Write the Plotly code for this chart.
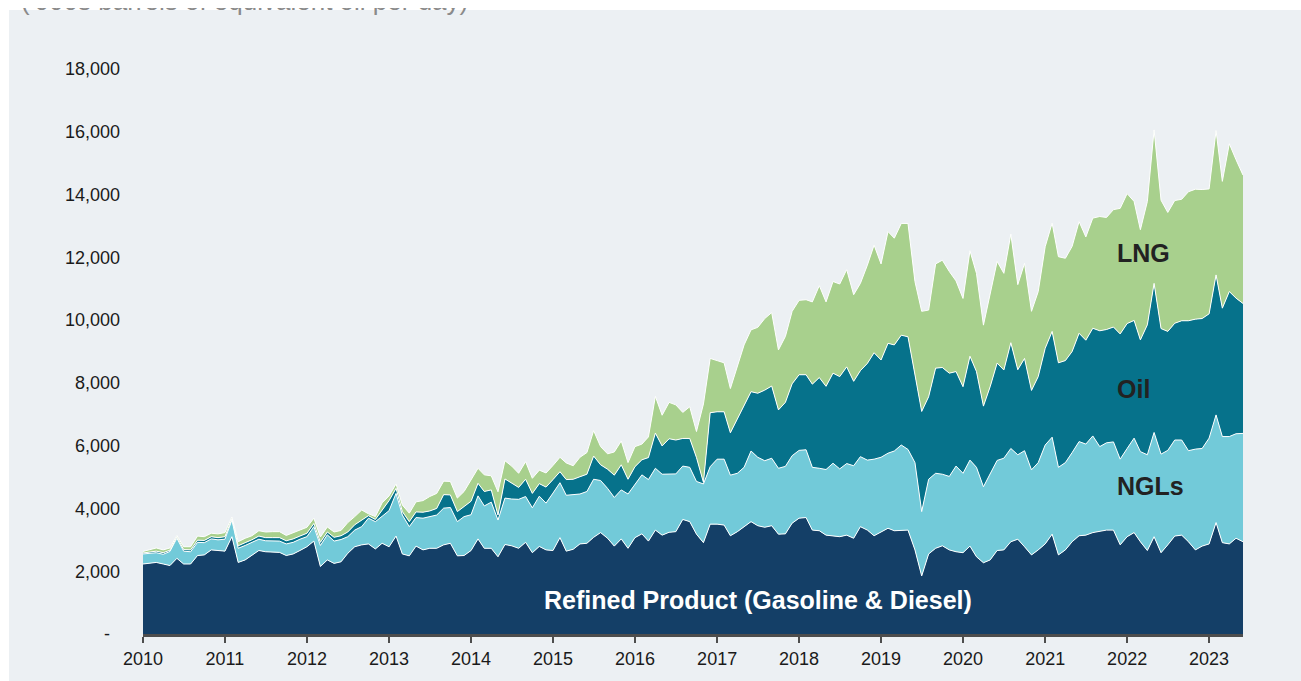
import plotly.graph_objects as go
import pandas as pd

# monthly, Jan 2010 - Jun 2023 ('000s barrels of equivalent oil per day)
months = pd.date_range("2010-01-01", periods=162, freq="MS")
year_ticks = [f"{y}-01-01" for y in range(2010, 2024)]
year_labels = [str(y) for y in range(2010, 2024)]
y_ticks = list(range(0, 18001, 2000))
y_labels = ["-\u00a0\u00a0"] + [f"{v:,}" for v in y_ticks[1:]]

refined = [
    2230, 2250, 2280, 2230, 2180, 2410, 2230, 2230, 2500, 2520, 2680, 2660,
    2640, 3100, 2280, 2360, 2520, 2660, 2620, 2620, 2600, 2500, 2550, 2660,
    2780, 2960, 2150, 2360, 2250, 2300, 2570, 2780, 2840, 2870, 2710, 2890,
    2780, 3120, 2550, 2490, 2800, 2680, 2730, 2730, 2840, 2890, 2490, 2500,
    2660, 3030, 2730, 2730, 2460, 2850, 2810, 2730, 2920, 2590, 2790, 2680,
    2660, 3070, 2640, 2700, 2870, 2890, 3080, 3230, 3050, 2800, 3030, 2730,
    3070, 3190, 2960, 3310, 3150, 3240, 3260, 3650, 3580, 3180, 2910, 3500,
    3500, 3470, 3130, 3260, 3420, 3580, 3450, 3400, 3450, 3180, 3190, 3530,
    3690, 3710, 3310, 3290, 3150, 3130, 3100, 3150, 3050, 3420, 3310, 3130,
    3260, 3370, 3290, 3290, 3310, 2680, 1850, 2550, 2730, 2810, 2680, 2620,
    2590, 2800, 2460, 2270, 2360, 2660, 2680, 2940, 3020, 2780, 2520, 2680,
    2870, 3180, 2520, 2680, 2940, 3130, 3150, 3230, 3260, 3310, 3310, 2840,
    3100, 3230, 2940, 2660, 3100, 2590, 2840, 3120, 3150, 2940, 2680, 2800,
    2870, 3550, 2910, 2870, 3050, 2940,
]

ngls = [
    320, 320, 310, 310, 450, 640, 410, 390, 420, 390, 350, 340,
    380, 530, 450, 460, 400, 360, 350, 340, 360, 370, 370, 360,
    320, 460, 670, 800, 710, 710, 530, 530, 580, 820, 870, 860,
    1150, 1360, 1240, 930, 910, 1010, 1010, 1060, 1170, 1140, 1090, 1240,
    1140, 1370, 1350, 1470, 1170, 1480, 1490, 1560, 1460, 1430, 1600, 1490,
    1830, 1750, 1780, 1730, 1590, 1650, 1850, 1660, 1590, 1550, 1560, 1730,
    1680, 1880, 1960, 1970, 1940, 1860, 1840, 1700, 1730, 1680, 1870, 1830,
    2070, 2100, 1930, 1860, 1890, 2250, 2180, 2120, 2150, 2100, 2150, 2150,
    2160, 2160, 2000, 1990, 2090, 2310, 2160, 2280, 2310, 2230, 2230, 2440,
    2370, 2390, 2540, 2730, 2570, 2780, 2050, 2380, 2390, 2280, 2340, 2730,
    2530, 2740, 2850, 2420, 2740, 2870, 2920, 2970, 2690, 3060, 2710, 2780,
    3150, 3090, 2790, 2780, 2840, 3000, 2900, 3080, 2710, 2780, 2810, 2730,
    2810, 3010, 2870, 3050, 3320, 3140, 3010, 3060, 3030, 2900, 3210, 3110,
    3370, 3430, 3380, 3420, 3330, 3450,
]

oil = [
    30, 50, 50, 50, 40, 40, 50, 60, 70, 70, 70, 70,
    80, 40, 80, 90, 80, 100, 100, 110, 110, 100, 110, 100,
    110, 100, 100, 90, 120, 120, 150, 170, 200, 80, 70, 200,
    320, 160, 110, 160, 180, 190, 180, 210, 430, 400, 320, 320,
    430, 400, 460, 390, 160, 610, 500, 380, 550, 460, 400, 510,
    430, 350, 500, 500, 550, 550, 740, 500, 610, 710, 800, 470,
    580, 480, 700, 1120, 900, 1120, 1080, 880, 920, 760, 50, 1720,
    1510, 1510, 1350, 1750, 1990, 1890, 2040, 2250, 2300, 1860, 2040, 2290,
    2410, 2390, 2650, 2890, 2650, 2870, 2940, 3080, 2690, 2740, 3080, 3390,
    3100, 3500, 3380, 3500, 3590, 2850, 3190, 2630, 3350, 3400, 3290, 3010,
    2760, 3310, 3050, 2570, 2780, 3100, 2810, 3370, 2710, 2940, 2530, 2740,
    3080, 3370, 3330, 3250, 3220, 3450, 3310, 3430, 3690, 3610, 3660, 3990,
    3980, 3750, 3560, 4140, 4750, 4000, 3790, 3720, 3800, 4140, 4140, 4140,
    3960, 4460, 4090, 4620, 4320, 4140,
]

lng = [
    50, 80, 100, 90, 70, 50, 90, 100, 130, 120, 110, 120,
    130, 60, 130, 140, 130, 170, 180, 190, 190, 170, 190, 180,
    190, 170, 170, 160, 170, 170, 300, 260, 330, 60, 90, 230,
    150, 140, 210, 270, 320, 370, 460, 480, 430, 430, 430, 480,
    690, 480, 530, 450, 740, 580, 550, 450, 560, 480, 430, 450,
    450, 460, 530, 430, 620, 690, 810, 580, 490, 740, 760, 530,
    640, 500, 660, 1170, 980, 1160, 1120, 830, 1010, 830, 2500, 1730,
    1630, 1560, 1410, 1650, 1910, 1970, 2100, 2280, 2340, 1910, 2100, 2310,
    2370, 2390, 2620, 2930, 2690, 2920, 2950, 3100, 2760, 2780, 3130, 3430,
    3060, 3560, 3400, 3560, 3610, 2920, 3190, 2760, 3320, 3420, 3240, 2890,
    2810, 3360, 3130, 2580, 2920, 3240, 3080, 3460, 2710, 3030, 2520, 2710,
    3240, 3450, 3380, 3260, 3350, 3560, 3290, 3510, 3640, 3570, 3740, 4000,
    4140, 3790, 3510, 3930, 4890, 4090, 3790, 3910, 3870, 4110, 4140, 4110,
    3980, 4600, 4040, 4710, 4410, 4090,
]

series = [
    ("Refined Product (Gasoline & Diesel)", refined, "#143f67"),
    ("NGLs", ngls, "#72cad9"),
    ("Oil", oil, "#06728b"),
    ("LNG", lng, "#a8d08d"),
]

FONT = "Liberation Sans, Arial, sans-serif"
PANEL = "#ecf0f3"

# the page body keeps its 8px top/left offset, so the figure is sized to fit
W, H = 1293, 673
L, T, PW, PH = 135, 61, 1100, 565


def px(x):
    return (x - L) / PW


def py(y):
    return (T + PH - y) / PH


fig = go.Figure()
for name, values, color in series:
    fig.add_trace(go.Scatter(
        x=months, y=values, name=name, mode="lines",
        stackgroup="exports", fillcolor=color,
        line=dict(color="white", width=1),
    ))

# white strips above and left of the gray panel (the paper itself is the panel)
fig.add_shape(type="rect", xref="paper", yref="paper", layer="below",
              x0=px(-20), x1=px(1310), y0=py(2), y1=py(-20),
              fillcolor="white", line=dict(width=0))
fig.add_shape(type="rect", xref="paper", yref="paper", layer="below",
              x0=px(-20), x1=px(1), y0=py(700), y1=py(-20),
              fillcolor="white", line=dict(width=0))

# unit note, mostly cropped off the top of the page in the original
fig.add_annotation(text="('000s barrels of equivalent oil per day)",
                   xref="paper", yref="paper", x=px(11), y=py(-6.5),
                   xanchor="left", yanchor="middle", showarrow=False,
                   font=dict(family=FONT, size=26, color="#8a8a8a"))

labels = [
    ("Refined Product (Gasoline & Diesel)", "2017-07-01", 1080, "center", "white"),
    ("NGLs", "2021-11-10", 4720, "left", "#222222"),
    ("Oil", "2021-11-10", 7800, "left", "#222222"),
    ("LNG", "2021-11-10", 12140, "left", "#222222"),
]
for text, x, y, anchor, color in labels:
    fig.add_annotation(text=f"<b>{text}</b>", x=x, y=y, xanchor=anchor,
                       yanchor="middle", showarrow=False,
                       font=dict(family=FONT, size=25, color=color))

fig.update_layout(
    width=W, height=H,
    margin=dict(l=L, r=W - L - PW, t=T, b=H - T - PH),
    paper_bgcolor=PANEL, plot_bgcolor="rgba(0,0,0,0)",
    showlegend=False,
    font=dict(family=FONT, size=18, color="#1a1a1a"),
    xaxis=dict(type="date", range=["2010-01-01", "2023-06-01"],
               tickvals=year_ticks, ticktext=year_labels,
               ticks="outside", ticklen=6, tickwidth=2, tickcolor="#4d4d4d",
               showline=True, linecolor="#4d4d4d", linewidth=3,
               showgrid=False, zeroline=False),
    yaxis=dict(range=[0, 18000], tickvals=y_ticks, ticktext=y_labels,
               ticks="", showgrid=False, zeroline=False, showline=False,
               ticklabelstandoff=22),
)

fig.write_html(
    "out.html",
    post_script="document.body.style.margin = '8px 0 0 8px';"
                "document.body.style.overflow = 'hidden';",
)
